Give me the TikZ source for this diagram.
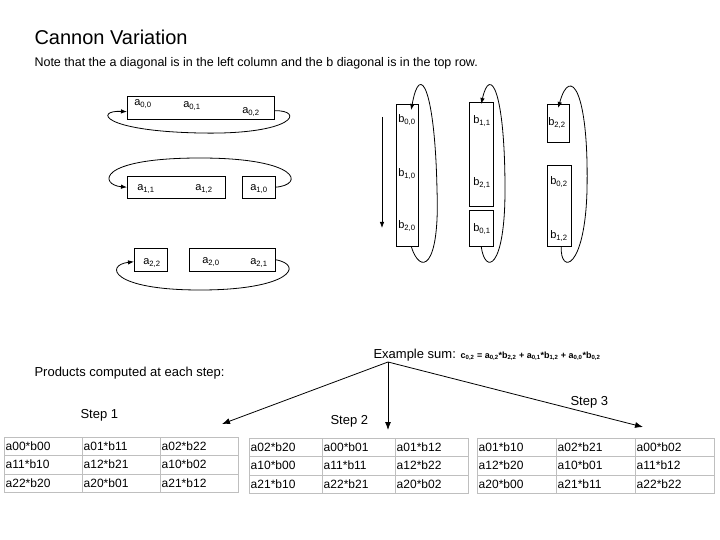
\documentclass[tikz,border=0pt]{standalone}
\usepackage{fontspec}
\setmainfont{Liberation Sans}
\usetikzlibrary{matrix,arrows.meta}
\newcommand{\elt}[3]{#1\textsubscript{#2,#3}}
\tikzset{
  grp/.style={draw,thin,inner sep=0pt,anchor=north west},
  lbl/.style={font=\fontsize{11}{12}\selectfont},
  txt/.style={anchor=base west,font=\fontsize{13}{15}\selectfont},
  cyc/.style={thick,-{Latex[length=6pt]}},
  tbl/.style={matrix of nodes,row sep=-\pgflinewidth,column sep=-\pgflinewidth,
    nodes={draw=gray!50,minimum height=18.5pt,text width=#1,inner xsep=2pt,
      font=\fontsize{12}{13}\selectfont,anchor=center}},
}
\begin{document}
\begin{tikzpicture}[x=1pt,y=-1pt]
  \useasboundingbox (0,0) rectangle (720,540);
  \node[anchor=base west,font=\fontsize{20}{24}\selectfont] (title) at (31,45) {Cannon Variation};
  \node[anchor=base west,font=\fontsize{12.5}{14}\selectfont] (note) at (31,67)
    {Note that the a diagonal is in the left column and the b diagonal is in the top row.};
  % a rows
  \node[grp,minimum width=147pt,minimum height=23pt] (ra0) at (127,96) {};
  \node[grp,minimum width=98pt,minimum height=22pt] (ra1) at (127,176) {};
  \node[grp,minimum width=33pt,minimum height=22pt] (ra1b) at (242,176) {};
  \node[grp,minimum width=33pt,minimum height=23pt] (ra2) at (134,248) {};
  \node[grp,minimum width=86pt,minimum height=23pt] (ra2b) at (189,248) {};
  \node[lbl] (a00) at (143,104) {\elt{a}{0}{0}};
  \node[lbl] (a01) at (192,106) {\elt{a}{0}{1}};
  \node[lbl] (a02) at (251,112) {\elt{a}{0}{2}};
  \node[lbl] (a11) at (146,189) {\elt{a}{1}{1}};
  \node[lbl] (a12) at (204,189) {\elt{a}{1}{2}};
  \node[lbl] (a10) at (259,189) {\elt{a}{1}{0}};
  \node[lbl] (a22) at (152,263) {\elt{a}{2}{2}};
  \node[lbl] (a20) at (211,262) {\elt{a}{2}{0}};
  \node[lbl] (a21) at (259,263) {\elt{a}{2}{1}};
  \draw[cyc] ([yshift=-3pt]ra0.east) .. controls (305,110) and (295,135) .. (200,133)
    .. controls (100,131) and (95,110) .. ([yshift=-4pt]ra0.west);
  \draw[cyc] (ra1b.east) .. controls (305,185) and (300,158) .. (200,158)
    .. controls (95,158) and (100,185) .. (ra1.west);
  \draw[cyc] (ra2b.east) .. controls (305,265) and (290,290) .. (200,290)
    .. controls (110,290) and (105,265) .. ([yshift=-2pt]ra2.west);
  % b columns
  \node[grp,minimum width=22pt,minimum height=142pt] (cb0) at (396,104) {};
  \node[grp,minimum width=24pt,minimum height=104pt] (cb1) at (469,102) {};
  \node[grp,minimum width=24pt,minimum height=36pt] (cb1b) at (469,210) {};
  \node[grp,minimum width=22pt,minimum height=38pt] (cb2) at (547,104) {};
  \node[grp,minimum width=24pt,minimum height=81pt] (cb2b) at (547,165) {};
  \node[lbl] (b00) at (407,120) {\elt{b}{0}{0}};
  \node[lbl] (b10) at (407,174) {\elt{b}{1}{0}};
  \node[lbl] (b20) at (407,226) {\elt{b}{2}{0}};
  \node[lbl] (b11) at (482,121) {\elt{b}{1}{1}};
  \node[lbl] (b21) at (482,183) {\elt{b}{2}{1}};
  \node[lbl] (b01) at (482,229) {\elt{b}{0}{1}};
  \node[lbl] (b22) at (557,123) {\elt{b}{2}{2}};
  \node[lbl] (b02) at (559,182) {\elt{b}{0}{2}};
  \node[lbl] (b12) at (559,236) {\elt{b}{1}{2}};
  \draw[cyc] ([xshift=4pt]cb0.south) .. controls (420,275) and (440,270) .. (437,190)
    .. controls (435,90) and (420,60) .. ([xshift=4pt,yshift=-6pt]cb0.north);
  \draw[cyc] (cb1b.south) .. controls (485,275) and (505,270) .. (505,190)
    .. controls (505,90) and (490,65) .. ([yshift=-2pt]cb1.north);
  \draw[cyc] ([xshift=2pt]cb2b.south) .. controls (560,275) and (585,270) .. (587,190)
    .. controls (589,90) and (570,65) .. ([yshift=-4pt]cb2.north);
  \coordinate (dtop) at (382,117);
  \coordinate (dbot) at (382,228);
  \draw[cyc] (dtop) -- (dbot);
  % products
  \node[txt] (prod) at (31,376) {Products computed at each step:};
  \node[txt] (ex) at (370,358)
    {Example sum: {\fontsize{9}{10}\selectfont\bfseries \elt{c}{0}{2} = \elt{a}{0}{2}*\elt{b}{2}{2} + \elt{a}{0}{1}*\elt{b}{1}{2} + \elt{a}{0}{0}*\elt{b}{0}{2}}};
  \coordinate (fork) at (388,362);
  \node[txt] (s1) at (77,418) {Step 1};
  \node[txt] (s2) at (327,424) {Step 2};
  \node[txt] (s3) at (567,405) {Step 3};
  \matrix (t1) [tbl=74pt,anchor=north west] at (0,433) {
    a00*b00 & a01*b11 & a02*b22 \\
    a11*b10 & a12*b21 & a10*b02 \\
    a22*b20 & a20*b01 & a21*b12 \\ };
  \matrix (t2) [tbl=69pt,anchor=north west] at (245,434) {
    a02*b20 & a00*b01 & a01*b12 \\
    a10*b00 & a11*b11 & a12*b22 \\
    a21*b10 & a22*b21 & a20*b02 \\ };
  \matrix (t3) [tbl=75pt,anchor=north west] at (473,434) {
    a01*b10 & a02*b21 & a00*b02 \\
    a12*b20 & a10*b01 & a11*b12 \\
    a20*b00 & a21*b11 & a22*b22 \\ };
  \draw[thick,-{Latex[length=8pt]}] (fork) -- (222,424);
  \draw[thick,-{Latex[length=8pt]}] (fork) -- (388,430);
  \draw[thick,-{Latex[length=8pt]}] (fork) -- (643,427);
\end{tikzpicture}
\end{document}
